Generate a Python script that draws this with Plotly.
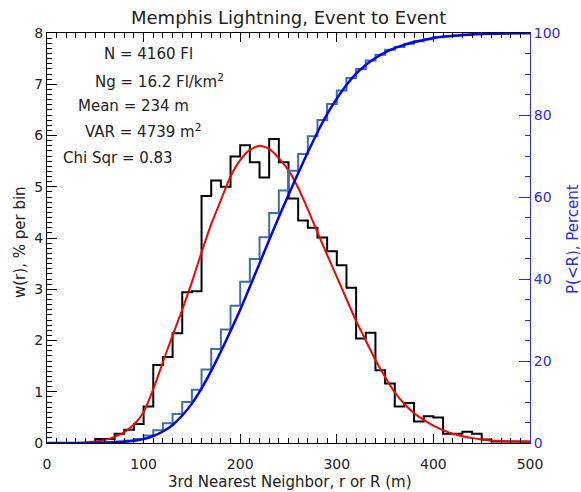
import plotly.graph_objects as go

# ---------------- data ----------------
bin_left_m = list(range(0, 500, 10))          # 10 m bins, 0..500 m
bin_right_edge_m = 500

# black histogram: w(r), % per bin
w_hist_pct = [0, 0, 0, 0, 0,
              0.08, 0.08, 0.18, 0.26, 0.37,
              0.71, 1.52, 1.68, 2.14, 2.94,
              2.96, 4.82, 5.12, 5.00, 5.59,
              5.81, 5.48, 5.18, 5.93, 5.48,
              4.77, 4.34, 4.20, 4.01, 3.74,
              3.47, 3.03, 2.04, 2.15, 1.42,
              1.16, 0.71, 0.78, 0.42, 0.52,
              0.50, 0.18, 0.18, 0.22, 0.18,
              0.07, 0.03, 0.03, 0.03, 0.03]

# steel-blue cumulative histogram: P(<R), percent
cdf_hist_pct = [0, 0, 0, 0, 0,
                0.08, 0.16, 0.34, 0.60, 1.0,
                1.8, 3.1, 4.8, 7.1, 10.0,
                13.0, 17.9, 22.9, 27.7, 33.5,
                39.3, 44.9, 50.2, 56.1, 61.6,
                66.4, 70.5, 74.8, 78.8, 82.7,
                86.0, 89.0, 91.2, 93.3, 94.7,
                95.9, 96.6, 97.4, 98.0, 98.5,
                99.0, 99.2, 99.4, 99.6, 99.75,
                99.85, 99.9, 99.93, 99.96, 100.0]

# smooth fitted curves, sampled every 10 m
curve_r_m = list(range(0, 510, 10))
fit_w_pct = [0, 0, 0, 0.002, 0.01, 0.03, 0.06, 0.12, 0.21, 0.36,
             0.60, 1.05, 1.58, 2.10, 2.60, 3.14, 3.72, 4.27, 4.74, 5.20,
             5.52, 5.72, 5.80, 5.74, 5.56, 5.32, 4.98, 4.56, 4.11, 3.67,
             3.24, 2.81, 2.38, 2.00, 1.62, 1.29, 0.99, 0.76, 0.58, 0.45,
             0.34, 0.25, 0.18, 0.13, 0.095, 0.07, 0.05, 0.04, 0.03, 0.025,
             0.02]
fit_p_pct = [0, 0, 0, 0, 0.01, 0.03, 0.07, 0.15, 0.30, 0.55,
             0.95, 1.7, 2.8, 4.4, 6.7, 9.6, 13.3, 17.6, 22.3, 27.3,
             32.5, 38.1, 43.8, 49.5, 55.1, 60.5, 65.8, 70.9, 75.8, 80.2,
             84.0, 87.3, 90.1, 92.2, 93.9, 95.3, 96.3, 97.1, 97.8, 98.3,
             98.8, 99.1, 99.35, 99.5, 99.65, 99.75, 99.82, 99.87, 99.91, 99.94,
             99.96]

# axis tick values
x_major_ticks = [0, 100, 200, 300, 400, 500]
y_major_ticks = [0, 1, 2, 3, 4, 5, 6, 7, 8]
y2_major_ticks = [0, 20, 40, 60, 80, 100]

stats_lines = ["N = 4160 Fl",
               "Ng = 16.2 Fl/km<sup>2</sup>",
               "Mean = 234 m",
               "VAR = 4739 m<sup>2</sup>",
               "Chi Sqr = 0.83"]
stats_x_m = [57, 48, 29.5, 37.7, 14]
stats_y = [7.59, 7.07, 6.57, 6.09, 5.57]

title_text = "Memphis Lightning, Event to Event"
x_title = "3rd Nearest Neighbor, r or R (m)"
y_title = "w(r), % per bin"
y2_title = "P(&lt;R), Percent"

# ---------------- figure ----------------
W, H = 581, 492
ML, MR, MT, MB = 47, 51, 33, 49
PW, PH = W - ML - MR, H - MT - MB
FONT = "DejaVu Sans"
TXT = "#222222"
BLUE = "#0000ff"
BLUE_AX = "#2a2aff"

def px(xp):
    return (xp - ML) / PW

def py(yp):
    return (H - MB - yp) / PH

step_x = bin_left_m + [bin_right_edge_m]

fig = go.Figure()
fig.add_trace(go.Scatter(x=step_x, y=w_hist_pct + [w_hist_pct[-1]],
                         mode="lines", line=dict(color="black", width=2, shape="hv"),
                         hoverinfo="skip", showlegend=False))
fig.add_trace(go.Scatter(x=step_x, y=cdf_hist_pct + [cdf_hist_pct[-1]],
                         mode="lines", yaxis="y2",
                         line=dict(color="#3f70a2", width=2, shape="hv"),
                         hoverinfo="skip", showlegend=False))
fig.add_trace(go.Scatter(x=curve_r_m, y=fit_w_pct, mode="lines",
                         line=dict(color="#ff0000", width=2, shape="spline", smoothing=0.6),
                         hoverinfo="skip", showlegend=False))
fig.add_trace(go.Scatter(x=curve_r_m, y=fit_p_pct, mode="lines", yaxis="y2",
                         line=dict(color=BLUE, width=2.5, shape="spline", smoothing=0.6),
                         hoverinfo="skip", showlegend=False))

annotations = []
for t, xm, yv in zip(stats_lines, stats_x_m, stats_y):
    annotations.append(dict(text=t, x=xm, y=yv, xref="x", yref="y",
                            xanchor="left", yanchor="middle", showarrow=False,
                            font=dict(family=FONT, size=15, color=TXT)))
annotations.append(dict(text=title_text, x=px(288), y=py(18), xref="paper", yref="paper",
                        xanchor="center", yanchor="middle", showarrow=False,
                        font=dict(family=FONT, size=18, color=TXT)))
annotations.append(dict(text=x_title, x=px(290), y=py(482), xref="paper", yref="paper",
                        xanchor="center", yanchor="middle", showarrow=False,
                        font=dict(family=FONT, size=15, color=TXT)))
annotations.append(dict(text=y_title, x=px(20), y=py(242), xref="paper", yref="paper",
                        xanchor="center", yanchor="middle", showarrow=False, textangle=-90,
                        font=dict(family=FONT, size=15, color=TXT)))
annotations.append(dict(text=y2_title, x=px(573), y=py(239), xref="paper", yref="paper",
                        xanchor="center", yanchor="middle", showarrow=False, textangle=-90,
                        font=dict(family=FONT, size=15, color=BLUE_AX)))

fig.update_layout(
    width=W, height=H,
    margin=dict(l=ML, r=MR, t=MT, b=MB),
    paper_bgcolor="white", plot_bgcolor="rgba(0,0,0,0)",
    font=dict(family=FONT, size=14, color=TXT),
    showlegend=False,
    annotations=annotations,
    xaxis=dict(range=[0, 500], tickmode="array", tickvals=x_major_ticks,
               ticks="inside", ticklen=9, tickwidth=1, tickcolor="#000000",
               showline=True, linecolor="#000000", linewidth=1, mirror="ticks",
               showgrid=False, zeroline=False, ticklabelstandoff=8,
               minor=dict(ticks="inside", ticklen=5, tickwidth=1, tickcolor="#000000",
                          tickmode="linear", tick0=0, dtick=10, showgrid=False),
               tickfont=dict(family=FONT, size=14, color=TXT)),
    yaxis=dict(range=[0, 8], tickmode="array", tickvals=y_major_ticks,
               ticks="inside", ticklen=10, tickwidth=1, tickcolor="#000000",
               showline=True, linecolor="#000000", linewidth=1,
               showgrid=False, zeroline=False,
               minor=dict(ticks="inside", ticklen=5, tickwidth=1, tickcolor="#000000",
                          tickmode="linear", tick0=0, dtick=0.1, showgrid=False),
               tickfont=dict(family=FONT, size=14, color=TXT)),
    yaxis2=dict(range=[0, 100], tickmode="array", tickvals=y2_major_ticks,
                overlaying="y", side="right", anchor="x",
                ticks="inside", ticklen=11, tickwidth=1, tickcolor=BLUE_AX,
                showline=True, linecolor=BLUE_AX, linewidth=1, showgrid=False,
                zeroline=False,
                minor=dict(ticks="inside", ticklen=5, tickwidth=1, tickcolor=BLUE_AX,
                           tickmode="linear", tick0=0, dtick=5, showgrid=False),
                tickfont=dict(family=FONT, size=14, color=BLUE_AX)),
)

fig.write_html("out.html")
